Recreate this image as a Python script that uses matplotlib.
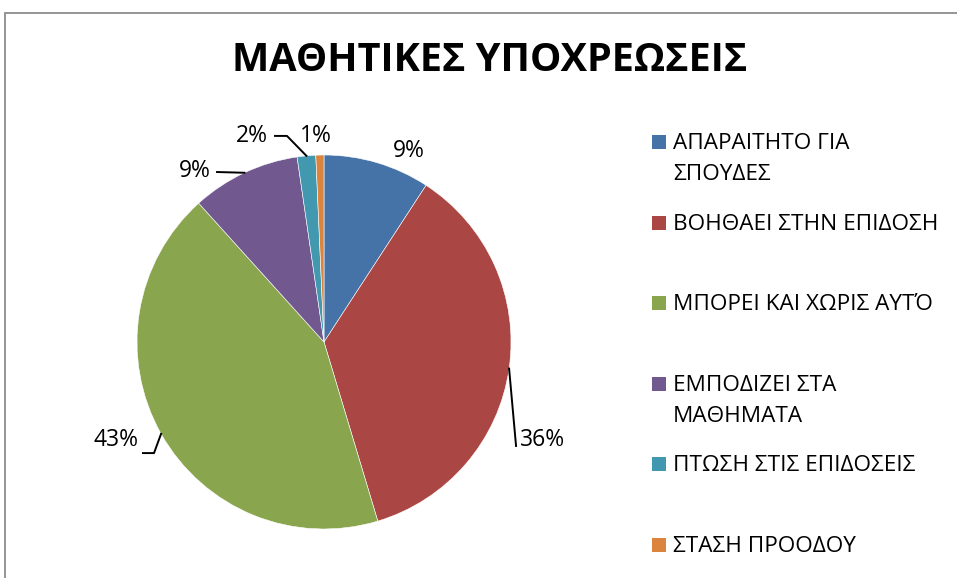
import numpy as np
import matplotlib
matplotlib.use('Agg')
import matplotlib.pyplot as plt
from matplotlib.patches import Rectangle

plt.rcParams['font.family'] = ['Open Sans', 'DejaVu Sans']

title = 'ΜΑΘΗΤΙΚΕΣ ΥΠΟΧΡΕΩΣΕΙΣ'
labels = ['ΑΠΑΡΑΙΤΗΤΟ ΓΙΑ\nΣΠΟΥΔΕΣ', 'ΒΟΗΘΑΕΙ ΣΤΗΝ ΕΠΙΔΟΣΗ', 'ΜΠΟΡΕΙ ΚΑΙ ΧΩΡΙΣ ΑΥΤΌ',
          'ΕΜΠΟΔΙΖΕΙ ΣΤΑ\nΜΑΘΗΜΑΤΑ', 'ΠΤΩΣΗ ΣΤΙΣ ΕΠΙΔΟΣΕΙΣ', 'ΣΤΑΣΗ ΠΡΟΟΔΟΥ']
values = [9.2, 36.2, 43.0, 9.4, 1.6, 0.7]
colors = ['#4572A7', '#AA4643', '#89A54E', '#71588F', '#4198AF', '#DB843D']

W, H = 957, 578
fig = plt.figure(figsize=(W/100, H/100), dpi=100)

# outer chart frame (right/bottom run off the picture)
fig.add_artist(Rectangle((5/W, -0.1), 1.2, 0.1 + 1 - 13/H, transform=fig.transFigure,
                         fill=False, edgecolor='#8c8c8c', linewidth=1.3))

fig.text(490/W, 1 - 71/H, title, ha='center', va='baseline', fontsize=28.5, fontweight='bold')

cx, cy, R = 324, 342, 187
ax = fig.add_axes([(cx - R)/W, (H - cy - R)/H, 2*R/W, 2*R/H])
wedges, _ = ax.pie(values, colors=colors, startangle=90, counterclock=False,
                   wedgeprops=dict(edgecolor='white', linewidth=0.4))
ax.set_xlim(-1, 1)
ax.set_ylim(-1, 1)
ax.axis('off')

pct = ['%d%%' % round(v / sum(values) * 100) for v in values]

# label placement (axes data units, radius = 1): text x, baseline y, align, leader path
lab_pos = [
    (0.455, 0.99, 'center', None),
    (1.05, -0.556, 'left', [(1.027, -0.556)]),
    (-0.99, -0.556, 'right', [(-0.909, -0.594), (-0.968, -0.594)]),
    (-0.604, 0.88, 'right', [(-0.572, 0.909)]),
    (-0.299, 1.07, 'right', [(-0.198, 1.102), (-0.262, 1.102)]),
    (-0.043, 1.07, 'center', None),
]
for w, p, (tx, ty, ha, path) in zip(wedges, pct, lab_pos):
    ang = np.deg2rad((w.theta1 + w.theta2) / 2)
    ex, ey = np.cos(ang), np.sin(ang)
    if path is not None:
        xs = [ex] + [q[0] for q in path]
        ys = [ey] + [q[1] for q in path]
        ax.plot(xs, ys, color='black', linewidth=1.4, clip_on=False)
    ax.text(tx, ty, p, ha=ha, va='baseline', fontsize=16.5, clip_on=False)

# legend
for i, (lab, c) in enumerate(zip(labels, colors)):
    y0 = 149 + i * 80.6
    fig.add_artist(Rectangle((652/W, 1 - y0/H), 14/W, 14/H, transform=fig.transFigure,
                             facecolor=c, edgecolor='none'))
    for j, line in enumerate(lab.split('\n')):
        fig.text(673/W, 1 - (y0 + j*31)/H, line, ha='left', va='baseline', fontsize=16.2)

fig.savefig('out.png', dpi=100)
